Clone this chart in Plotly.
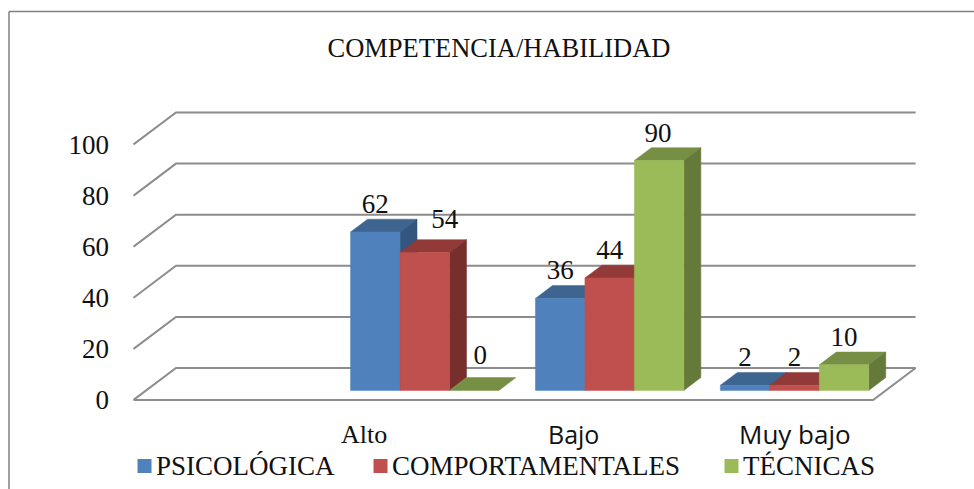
import plotly.graph_objects as go

# ---- data ----
categories = ["", "Alto", "Bajo", "Muy bajo"]
psicologica = [None, 62, 36, 2]
comportamentales = [None, 54, 44, 2]
tecnicas = [None, 0, 90, 10]
series_names = ["PSICOLÓGICA", "COMPORTAMENTALES", "TÉCNICAS"]
y_ticks = [0, 20, 40, 60, 80, 100]

# ---- styles ----
W, H = 974, 489
ML, MT = 133.0, 105.0
PX_CAT = 184.9      # pixels per category slot
PX_VAL = 2.555      # pixels per value unit
X0_PX, Y0_PX = 133.5, 400.0
DEPTH_PX = (42.5, 32.0)
DX = DEPTH_PX[0] / PX_CAT
DY = DEPTH_PX[1] / PX_VAL
BAR_W = 0.2675
BAR_START = 0.105
DEPTH_FRONT, DEPTH_BACK = 0.3, 0.7
FRONT = ["#4F81BD", "#C0504D", "#9BBB59"]
TOP = ["#3E6490", "#913A38", "#778F45"]
SIDE = ["#33557F", "#772F2D", "#64793A"]
GRID = "#8C8C8C"
SERIF = "Liberation Serif"
TEXT = "#111111"
LABEL_NUDGE = {(1, 1): (20, 5), (2, 1): (6, 7), (2, 2): (-1, -1)}
CAT_NUDGE = {"Alto": -47, "Bajo": -22.5, "Muy bajo": 14}
CAT_FONT = {"Alto": (SERIF, 26), "Bajo": ("Open Sans", 25), "Muy bajo": ("Open Sans", 26)}
LEGEND_POS = [(137.5, 154), (373.5, 390), (724.5, 741)]


def proj(u, v, d):
    return u + d * DX, v + d * DY


fig = go.Figure()


def poly(pts, color):
    fig.add_trace(go.Scatter(
        x=[p[0] for p in pts] + [pts[0][0]], y=[p[1] for p in pts] + [pts[0][1]],
        mode="lines", fill="toself", fillcolor=color,
        line=dict(color=color, width=0.5), hoverinfo="skip", showlegend=False))


# walls
xs, ys = [], []
for t in y_ticks[1:]:
    a = proj(0, t, 0)
    b = proj(0, t, 1)
    c = proj(4, t, 1)
    xs += [a[0], b[0], c[0], None]
    ys += [a[1], b[1], c[1], None]
corners = [proj(0, 0, 0), proj(4, 0, 0), proj(4, 0, 1), proj(0, 0, 1), proj(0, 0, 0)]
xs += [p[0] for p in corners]
ys += [p[1] for p in corners]
fig.add_trace(go.Scatter(x=xs, y=ys, mode="lines", line=dict(color=GRID, width=2),
                         hoverinfo="skip", showlegend=False))

# bars
all_series = [psicologica, comportamentales, tecnicas]
for c in range(1, len(categories)):
    for s, vals in enumerate(all_series):
        v = vals[c]
        u0 = c + BAR_START + s * BAR_W
        u1 = u0 + BAR_W
        f0, f1 = DEPTH_FRONT, DEPTH_BACK
        poly([proj(u0, v, f0), proj(u1, v, f0), proj(u1, v, f1), proj(u0, v, f1)], TOP[s])
        if v > 0:
            poly([proj(u1, 0, f0), proj(u1, v, f0), proj(u1, v, f1), proj(u1, 0, f1)], SIDE[s])
            poly([proj(u0, 0, f0), proj(u1, 0, f0), proj(u1, v, f0), proj(u0, v, f0)], FRONT[s])

# data labels
for s, vals in enumerate(all_series):
    lx, ly, lt = [], [], []
    for c in range(1, len(categories)):
        v = vals[c]
        nx, ny = LABEL_NUDGE.get((s, c), (0, 0))
        u, w = proj(c + BAR_START + (s + 0.5) * BAR_W, v, DEPTH_FRONT)
        lx.append(u + nx / PX_CAT)
        ly.append(w + (DEPTH_BACK - DEPTH_FRONT) * DY + (13 + ny) / PX_VAL)
        lt.append(str(v))
    fig.add_trace(go.Scatter(x=lx, y=ly, text=lt, mode="text", textposition="middle center",
                             textfont=dict(family=SERIF, size=27, color=TEXT),
                             hoverinfo="skip", showlegend=False))

annotations = []
plot_w = W - ML - 54
plot_h = H - MT


def px_x(p):
    return (p - ML) / plot_w


def px_y(p):
    return (H - p) / plot_h


for c in range(1, len(categories)):
    name = categories[c]
    fam, size = CAT_FONT[name]
    annotations.append(dict(x=c + 0.5, xref="x", y=px_y(434), yref="paper", yanchor="middle",
                            text=name, showarrow=False, xshift=CAT_NUDGE[name],
                            font=dict(family=fam, size=size, color=TEXT)))

shapes = []
for i, name in enumerate(series_names):
    sym, txt = LEGEND_POS[i]
    shapes.append(dict(type="rect", xref="paper", yref="paper",
                       x0=px_x(sym), x1=px_x(sym + 14), y0=px_y(473), y1=px_y(459),
                       fillcolor=FRONT[i], line=dict(width=0)))
    annotations.append(dict(x=px_x(txt), y=px_y(466), xref="paper", yref="paper",
                            xanchor="left", yanchor="middle", showarrow=False, text=name,
                            font=dict(family=SERIF, size=27, color=TEXT)))

# frame
FRAME = "#808080"
shapes.append(dict(type="line", xref="paper", yref="paper", x0=px_x(9), x1=px_x(9),
                   y0=px_y(11.5), y1=px_y(489), line=dict(color=FRAME, width=1.5)))
shapes.append(dict(type="line", xref="paper", yref="paper", x0=px_x(9), x1=px_x(974),
                   y0=px_y(11.5), y1=px_y(11.5), line=dict(color=FRAME, width=1.5)))

fig.update_layout(
    width=W, height=H, autosize=False,
    paper_bgcolor="white", plot_bgcolor="white",
    margin=dict(l=ML, r=54, t=MT, b=0, pad=0),
    showlegend=False,
    title=dict(text="COMPETENCIA/HABILIDAD", x=499 / W, xref="container", xanchor="center",
               y=1 - 48 / H, yref="container", yanchor="middle",
               font=dict(family=SERIF, size=26.5, color=TEXT)),
    xaxis=dict(visible=False, range=[(ML - X0_PX) / PX_CAT, (ML + plot_w - X0_PX) / PX_CAT],
               fixedrange=True),
    yaxis=dict(range=[(Y0_PX - H) / PX_VAL, (Y0_PX - MT) / PX_VAL],
               tickmode="array", tickvals=y_ticks, ticktext=[str(t) for t in y_ticks],
               showgrid=False, zeroline=False, showline=False, ticks="",
               ticklabelstandoff=23, fixedrange=True,
               tickfont=dict(family=SERIF, size=27, color=TEXT)),
    annotations=annotations, shapes=shapes,
)
fig.write_html("out.html", config=dict(displayModeBar=False),
               post_script="document.body.style.margin='0';document.body.style.overflow='hidden';")
